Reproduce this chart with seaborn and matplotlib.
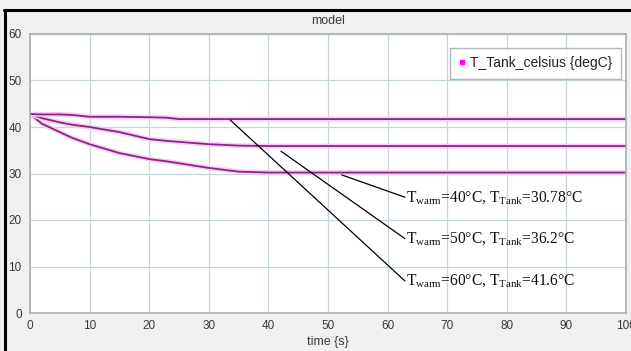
import numpy as np
import pandas as pd
import matplotlib
matplotlib.use("Agg")
import matplotlib.pyplot as plt
import matplotlib.patheffects as pe
from matplotlib.lines import Line2D
import seaborn as sns

# ---- data ----
time_s = [0, 2, 5, 7, 10, 15, 20, 23, 25, 30, 35, 40, 50, 60, 70, 80, 90, 100]
t_tank_60 = [42.8, 42.7, 42.7, 42.6, 42.2, 42.2, 42.1, 42.0, 41.7, 41.7, 41.7, 41.7, 41.7, 41.7, 41.7, 41.7, 41.7, 41.7]
t_tank_50 = [42.8, 41.9, 41.0, 40.5, 40.0, 38.9, 37.4, 37.0, 36.8, 36.3, 36.0, 35.9, 35.9, 35.9, 35.9, 35.9, 35.9, 35.9]
t_tank_40 = [42.8, 40.7, 38.9, 37.7, 36.3, 34.4, 33.1, 32.6, 32.2, 31.2, 30.4, 30.2, 30.2, 30.2, 30.2, 30.2, 30.2, 30.2]
series_names = ["Twarm=60", "Twarm=50", "Twarm=40"]
x_ticks = [0, 10, 20, 30, 40, 50, 60, 70, 80, 90, 100]
y_ticks = [0, 10, 20, 30, 40, 50, 60]
legend_label = "T_Tank_celsius {degC}"
title = "model"
xlabel = "time {s}"
annotations = [
    (r"T$_{\mathrm{warm}}$=40°C, T$_{\mathrm{Tank}}$=30.78°C", 52.3, 29.7, 24.9),
    (r"T$_{\mathrm{warm}}$=50°C, T$_{\mathrm{Tank}}$=36.2°C", 42.1, 34.8, 16.0),
    (r"T$_{\mathrm{warm}}$=60°C, T$_{\mathrm{Tank}}$=41.6°C", 33.6, 41.5, 6.9),
]

df = pd.DataFrame({
    "time": time_s * 3,
    "T": t_tank_60 + t_tank_50 + t_tank_40,
    "run": [series_names[0]] * len(time_s) + [series_names[1]] * len(time_s) + [series_names[2]] * len(time_s),
})

sns.set_theme(style="white")
plt.rcParams["font.family"] = ["Liberation Sans", "DejaVu Sans"]
plt.rcParams["mathtext.fontset"] = "custom"
plt.rcParams["mathtext.rm"] = "Liberation Serif"
plt.rcParams["mathtext.it"] = "Liberation Serif:italic"

W, H = 631, 351
fig = plt.figure(figsize=(W / 100, H / 100), dpi=100, facecolor="#f0f0f0")
ax = fig.add_axes([30 / W, (H - 313) / H, (626 - 30) / W, (313 - 34) / H])
ax.set_facecolor("white")

line_color = "#8c2486"
sns.lineplot(data=df, x="time", y="T", units="run", estimator=None,
             color=line_color, linewidth=1.3, ax=ax, legend=False)
for ln in ax.get_lines():
    ln.set_path_effects([pe.Stroke(linewidth=3.5, foreground="#f6cef2"), pe.Normal()])

ax.set_xlim(0, 100)
ax.set_ylim(0, 60)
ax.set_xticks(x_ticks)
ax.set_yticks(y_ticks)
ax.grid(True, color="#c4d6dc", linewidth=0.9)
ax.tick_params(axis="both", length=0, labelsize=8.5, labelcolor="#3a3a3a")
ax.tick_params(axis="y", pad=6)
ax.tick_params(axis="x", pad=5)
for sp in ax.spines.values():
    sp.set_color("#a8b0b4")
    sp.set_linewidth(1.2)

ax.set_title(title, fontsize=9, color="#3a3a3a", pad=7)
ax.set_xlabel(xlabel, fontsize=9, color="#3a3a3a", labelpad=3)
ax.set_ylabel("")

# annotations
for text, x0, y0, yt in annotations:
    ax.plot([x0, 62.9], [y0, yt], color="black", linewidth=0.9)
    ax.text(63.1, yt, text, ha="left", va="center", fontsize=11.2,
            family="Liberation Serif", color="#111111")

handle = Line2D([], [], linestyle="none", marker="s", markersize=3.5,
                markerfacecolor="#ff00ff", markeredgecolor="#ff00ff")
leg = ax.legend([handle], [legend_label], loc="upper right",
                bbox_to_anchor=(0.9915, 0.95), fontsize=10, frameon=True,
                fancybox=False, handlelength=0.5, handletextpad=0.35,
                borderpad=0.6, borderaxespad=0)
leg.get_frame().set_edgecolor("#9aa4a8")
leg.get_frame().set_linewidth(1.0)
for t in leg.get_texts():
    t.set_color("#222222")

# black outer frame (screenshot border)
fig.add_artist(Line2D([4 / W, 1.0], [(H - 10) / H, (H - 10) / H], color="black",
                      linewidth=2.2, transform=fig.transFigure))
fig.add_artist(Line2D([5 / W, 5 / W], [0, (H - 10) / H], color="black",
                      linewidth=2.2, transform=fig.transFigure))

fig.savefig("out.png", dpi=100, facecolor=fig.get_facecolor())
